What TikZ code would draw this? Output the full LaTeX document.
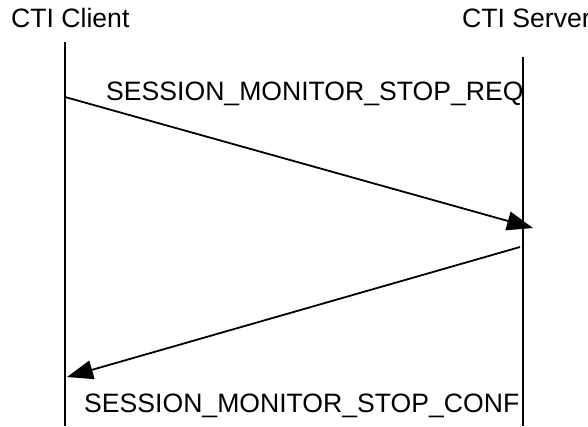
\documentclass[tikz,border=0pt]{standalone}
\usepackage{fontspec}
\setmainfont{Liberation Sans}
\usetikzlibrary{arrows.meta}
\begin{document}
\begin{tikzpicture}[x=1pt,y=-1pt,
  lbl/.style={anchor=base west,inner sep=0pt,font=\fontsize{26.6}{31}\selectfont},
  life/.style={line width=1.8pt},
  msg/.style={line width=1.8pt,-{Triangle[length=26pt,width=19pt]}}]
\useasboundingbox (0,0) rectangle (588,426);
\node[lbl] (client) at (11,27) {CTI Client};
\node[lbl] (server) at (462,27) {CTI Server};
\coordinate (ctop) at (65,42);
\coordinate (cbot) at (65,426);
\coordinate (stop) at (523,57);
\coordinate (sbot) at (523,426);
\draw[life] (ctop) -- (cbot);
\draw[life] (stop) -- (sbot);
\coordinate (r1) at (65,97);
\coordinate (r2) at (533,228);
\draw[msg] (r1) -- (r2);
\coordinate (c1) at (520,247);
\coordinate (c2) at (67,377);
\draw[msg] (c1) -- (c2);
\node[lbl] (req) at (106,100) {SESSION\_MONITOR\_STOP\_REQ};
\node[lbl] (conf) at (84,412) {SESSION\_MONITOR\_STOP\_CONF};
\end{tikzpicture}
\end{document}
